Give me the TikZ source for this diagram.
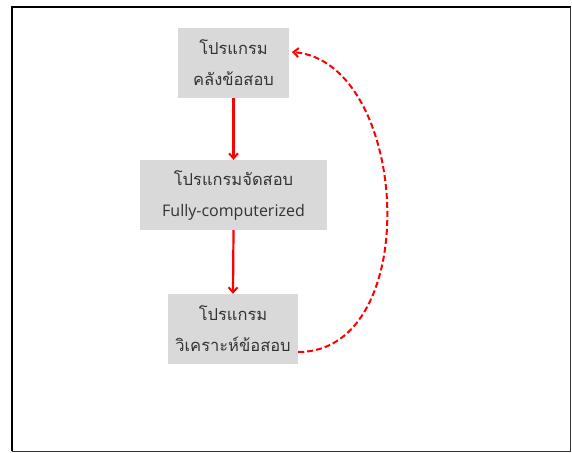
\documentclass[tikz,border=0pt]{standalone}
\usepackage{fontspec}
\setmainfont{Open Sans}
\newfontfamily\thaifont[Script=Thai,Scale=1.03]{Loma}
\usetikzlibrary{arrows.meta}
\definecolor{boxgray}{HTML}{D9D9D9}
\definecolor{txtgray}{HTML}{333333}
\definecolor{arrred}{HTML}{FF0000}
\tikzset{
  procbox/.style={fill=boxgray, inner sep=0pt, minimum height=70pt, align=center,
    text=txtgray, font=\fontsize{16pt}{31pt}\selectfont},
  flow/.style={draw=arrred, line width=2.2pt, -{Straight Barb[length=5pt,width=9pt,line width=2pt]}},
  back/.style={draw=arrred, line width=2pt, dash pattern=on 6pt off 3pt,
    -{Straight Barb[length=5pt,width=9pt,line width=2pt]}}
}
\begin{document}
\begin{tikzpicture}[x=1pt,y=-1pt]
\useasboundingbox (0,0) rectangle (572,452);
\draw[line width=2pt, black] (12,451) -- (12,7) -- (571,7);
\draw[line width=1pt, black!80] (570.5,7) -- (570.5,451) -- (12,451);
\node[procbox, minimum width=111pt] (a) at (233.5,63) {\thaifont โปรแกรม\\\thaifont คลังข้อสอบ};
\node[procbox, minimum width=187pt] (b) at (233.5,195) {\thaifont โปรแกรมจัดสอบ\\Fully-computerized};
\node[procbox, minimum width=130pt] (c) at (233,329) {\thaifont โปรแกรม\\\thaifont วิเคราะห์ข้อสอบ};
\draw[flow] (a.south) -- (b.north);
\draw[flow] (b.south) -- (c.north);
\coordinate (s) at (c.east |- 0,352);
\coordinate (e) at (292,52);
\draw[back] (s) .. controls (425,352) and (410,62) .. (e);
\end{tikzpicture}
\end{document}
